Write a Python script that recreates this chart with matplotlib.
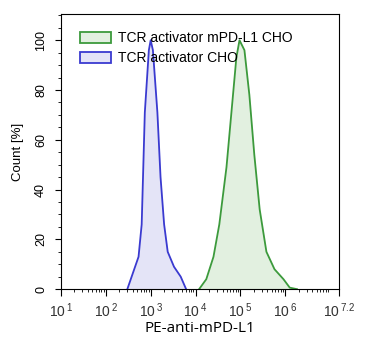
import numpy as np
import matplotlib.pyplot as plt
from matplotlib.patches import Patch
from matplotlib.ticker import FixedLocator, MultipleLocator, LogLocator, NullFormatter

plt.rcParams['font.family'] = ['Liberation Sans', 'DejaVu Sans']
plt.rcParams['mathtext.fontset'] = 'custom'
plt.rcParams['mathtext.rm'] = 'Liberation Sans'

# Blue: TCR activator CHO (log10 of intensity, count %)
blue_log = [2.48, 2.73, 2.80, 2.87, 2.96, 3.00, 3.05, 3.15, 3.22, 3.30, 3.38, 3.52, 3.67, 3.79]
blue_cnt = [0, 13, 26, 71, 96, 100, 96, 71, 45, 26, 15, 9, 5, 0]

# Green: TCR activator mPD-L1 CHO
green_log = [4.08, 4.24, 4.40, 4.53, 4.69, 4.80, 4.91, 4.98, 5.09, 5.20, 5.31, 5.43, 5.58, 5.76, 5.96, 6.10, 6.26]
green_cnt = [0, 4, 13, 26, 49, 71, 93, 100, 96, 78, 54, 32, 15, 8, 4, 0.6, 0]

labels = ['TCR activator mPD-L1 CHO', 'TCR activator CHO']
tick_exp = [1, 2, 3, 4, 5, 6, 7.2]

fig = plt.figure(figsize=(3.67, 3.43), dpi=100)
ax = fig.add_axes([0.166, 0.157, 0.758, 0.802])

bx = 10 ** np.array(blue_log)
gx = 10 ** np.array(green_log)
ax.fill_between(bx, blue_cnt, color='#e4e4f7', lw=0)
ax.plot(bx, blue_cnt, color='#3a3ad0', lw=1.3)
ax.fill_between(gx, green_cnt, color='#e2f0e0', lw=0)
ax.plot(gx, green_cnt, color='#3c9a3c', lw=1.3)

ax.set_xscale('log')
ax.set_xlim(10 ** 1, 10 ** 7.2)
ax.set_ylim(0, 110.5)

ax.xaxis.set_major_locator(FixedLocator([10 ** e for e in tick_exp]))
ax.set_xticklabels([r'$\mathregular{10^{\,%s}}$' % ('%g' % e) for e in tick_exp], fontsize=10, color='#333333')
ax.xaxis.set_minor_locator(LogLocator(base=10, subs=np.arange(2, 10), numticks=20))
ax.xaxis.set_minor_formatter(NullFormatter())

ax.yaxis.set_major_locator(MultipleLocator(20))
ax.yaxis.set_minor_locator(MultipleLocator(5))
ax.tick_params(axis='y', which='major', labelsize=9, labelrotation=90, length=4, pad=6)
ax.tick_params(axis='x', which='major', length=5)
ax.tick_params(which='minor', length=2.5)
for lab in ax.get_yticklabels():
    lab.set_va('center')

ax.set_ylabel('Count [%]', fontsize=9.5, labelpad=8)
ax.set_xlabel('PE-anti-mPD-L1', fontsize=11, family='Open Sans', labelpad=1)

handles = [Patch(facecolor='#e2f0e0', edgecolor='#3c9a3c', lw=1.3),
           Patch(facecolor='#e4e4f7', edgecolor='#3a3ad0', lw=1.3)]
ax.legend(handles, labels, loc='upper left', bbox_to_anchor=(0.05, 0.958), frameon=False,
          fontsize=10, handlelength=2.2, handleheight=0.9, handletextpad=0.5,
          labelspacing=0.45, borderaxespad=0)

fig.savefig('out.png', dpi=100)
